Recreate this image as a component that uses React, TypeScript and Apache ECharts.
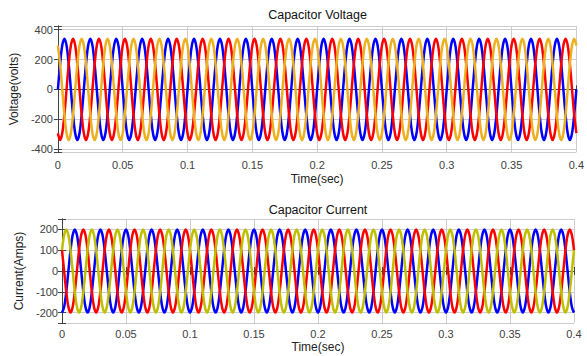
import React, { useEffect, useRef } from "react";
import * as echarts from "echarts";

// Time axis (seconds)
const TIME_MIN = 0;
const TIME_MAX = 0.4;
const TIME_TICK = 0.05;
// One cycle lasts 0.02 s (50 Hz), 20 cycles over the window
const PERIOD = 0.02;
const CYCLES = 20;

const voltageBlue = [0, 170, 294, 340, 294, 170, 0, -170, -294, -340, -294, -170];
const voltageRed = [-294, -340, -294, -170, 0, 170, 294, 340, 294, 170, 0, -170];
const voltageYellow = [294, 170, 0, -170, -294, -340, -294, -170, 0, 170, 294, 340];

const currentBlue = [-200, -173, -100, 0, 100, 173, 200, 173, 100, 0, -100, -173];
const currentRed = [100, 0, -100, -173, -200, -173, -100, 0, 100, 173, 200, 173];
const currentYellow = [100, 173, 200, 173, 100, 0, -100, -173, -200, -173, -100, 0];

// Axis ranges
const VOLT_MIN = -420;
const VOLT_MAX = 425;
const VOLT_STEP = 200;
const CURR_MIN = -250;
const CURR_MAX = 250;
const CURR_STEP = 100;

const COLORS = {
  blue: "#0000FF",
  red: "#FF0000",
  vYellow: "#EDB120",
  cYellow: "#BFBF00",
};

function buildSeries(cycle: number[]): [number, number][] {
  const out: [number, number][] = [];
  const n = cycle.length;
  for (let c = 0; c < CYCLES; c++) {
    for (let k = 0; k < n; k++) {
      const t = +(c * PERIOD + (k * PERIOD) / n).toFixed(6);
      out.push([t, cycle[k]]);
    }
  }
  out.push([TIME_MAX, cycle[0]]);
  return out;
}

const FONT = "Liberation Sans, Arial, Helvetica, sans-serif";

export default function App() {
  const ref = useRef<HTMLDivElement>(null);

  useEffect(() => {
    if (!ref.current) return;
    const chart = echarts.init(ref.current, undefined, { renderer: "svg" });

    const gridLine = { show: true, lineStyle: { color: "#cccccc", width: 1 } };
    const labelStyle = { color: "#404040", fontSize: 11, fontFamily: FONT };

    const xBase = (gridIndex: number, margin: number, nameGap: number) => ({
      type: "value",
      gridIndex,
      min: TIME_MIN,
      max: TIME_MAX,
      interval: TIME_TICK,
      name: "Time(sec)",
      nameLocation: "middle",
      nameGap,
      nameTextStyle: { color: "#222222", fontSize: 12, fontFamily: FONT },
      axisLine: { show: true, lineStyle: { color: "#444444", width: 1 } },
      axisTick: { show: true, inside: true, length: 4, lineStyle: { color: "#444444" } },
      axisLabel: { ...labelStyle, margin },
      splitLine: gridLine,
    });
    const xTop = (gridIndex: number) => ({
      type: "value",
      gridIndex,
      position: "top",
      min: TIME_MIN,
      max: TIME_MAX,
      interval: TIME_TICK,
      axisLine: { show: true, lineStyle: { color: "#444444", width: 1 } },
      axisTick: { show: true, inside: true, length: 4, lineStyle: { color: "#444444" } },
      axisLabel: { show: false },
      splitLine: { show: false },
    });

    const yBase = (
      gridIndex: number,
      min: number,
      max: number,
      step: number,
      name: string,
      margin: number,
      nameGap: number
    ) => ({
      type: "value",
      gridIndex,
      min,
      max,
      splitNumber: 5,
      name,
      nameLocation: "middle",
      nameGap,
      nameTextStyle: { color: "#222222", fontSize: 12, fontFamily: FONT },
      axisLine: { show: true, lineStyle: { color: "#444444", width: 1 } },
      axisTick: { show: true, inside: true, length: 4, lineStyle: { color: "#444444" } },
      axisLabel: {
        ...labelStyle,
        margin,
        formatter: (v: number) => (Math.abs(v % step) < 1e-6 ? String(v) : ""),
      },
      splitLine: gridLine,
    });
    const yRight = (gridIndex: number, min: number, max: number) => ({
      type: "value",
      gridIndex,
      position: "right",
      min,
      max,
      splitNumber: 5,
      axisLine: { show: true, lineStyle: { color: "#444444", width: 1 } },
      axisTick: { show: true, inside: true, length: 4, lineStyle: { color: "#444444" } },
      axisLabel: { show: false },
      splitLine: { show: false },
    });

    const line = (
      name: string,
      data: [number, number][],
      color: string,
      xAxisIndex: number,
      yAxisIndex: number
    ) => ({
      name,
      type: "line",
      xAxisIndex,
      yAxisIndex,
      data,
      smooth: 0.33,
      showSymbol: false,
      symbol: "none",
      clip: true,
      lineStyle: { color, width: 2.5 },
      itemStyle: { color },
    });

    chart.setOption({
      animation: false,
      backgroundColor: "#ffffff",
      title: [
        {
          text: "Capacitor Voltage",
          left: 317.5,
          top: 8,
          textAlign: "center",
          padding: 0,
          textStyle: { color: "#111111", fontSize: 12.5, fontWeight: "normal", fontFamily: FONT },
        },
        {
          text: "Capacitor Current",
          left: 318,
          top: 203,
          textAlign: "center",
          padding: 0,
          textStyle: { color: "#111111", fontSize: 12.5, fontWeight: "normal", fontFamily: FONT },
        },
      ],
      grid: [
        { left: 57, top: 26, width: 521, height: 126 },
        { left: 62, top: 219, width: 512, height: 104 },
      ],
      xAxis: [xBase(0, 7, 21), xBase(1, 5, 18), xTop(0), xTop(1)],
      yAxis: [
        yBase(0, VOLT_MIN, VOLT_MAX, VOLT_STEP, "Voltage(volts)", 5, 31),
        yBase(1, CURR_MIN, CURR_MAX, CURR_STEP, "Current(Amps)", 4, 28),
        yRight(0, VOLT_MIN, VOLT_MAX),
        yRight(1, CURR_MIN, CURR_MAX),
      ],
      series: [
        line("Va", buildSeries(voltageBlue), COLORS.blue, 0, 0),
        line("Vb", buildSeries(voltageRed), COLORS.red, 0, 0),
        line("Vc", buildSeries(voltageYellow), COLORS.vYellow, 0, 0),
        line("Ia", buildSeries(currentBlue), COLORS.blue, 1, 1),
        line("Ib", buildSeries(currentRed), COLORS.red, 1, 1),
        line("Ic", buildSeries(currentYellow), COLORS.cYellow, 1, 1),
      ],
    });

    return () => chart.dispose();
  }, []);

  return (
    <div
      ref={ref}
      style={{ position: "fixed", left: 0, top: 0, width: 587, height: 356, background: "#fff" }}
    />
  );
}
